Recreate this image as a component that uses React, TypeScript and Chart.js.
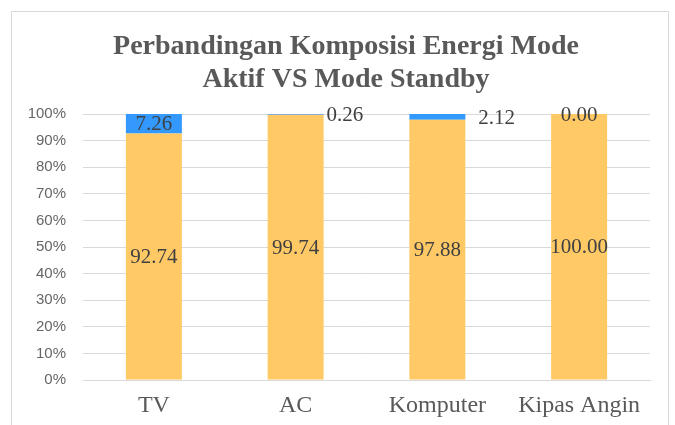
import React, { useEffect, useRef } from "react";
import { Chart, registerables } from "chart.js";

Chart.register(...registerables);

const categories = ["TV", "AC", "Komputer", "Kipas Angin"];
const aktifValues = [92.74, 99.74, 97.88, 100.0];
const standbyValues = [7.26, 0.26, 2.12, 0.0];
const titleLines = ["Perbandingan Komposisi Energi Mode", "Aktif VS Mode Standby"];
const yTickStep = 10;

const labelPlugin = {
  id: "barLabels",
  afterLayout(chart: any) {
    if (chart.titleBlock) chart.titleBlock.left = 42;
  },
  afterDatasetsDraw(chart: any) {
    const ctx = chart.ctx;
    ctx.save();
    ctx.font = "21px 'Liberation Serif', 'Times New Roman', serif";
    ctx.fillStyle = "#404040";
    ctx.textBaseline = "middle";
    chart.data.datasets.forEach((ds: any, di: number) => {
      const meta = chart.getDatasetMeta(di);
      meta.data.forEach((bar: any, j: number) => {
        const v = ds.data[j];
        const txt = v.toFixed(2);
        const props = bar.getProps(["x", "y", "base", "width"], true);
        const top = Math.min(props.y, props.base);
        const bottom = Math.max(props.y, props.base);
        if (di === 0 || v >= 5) {
          ctx.textAlign = "center";
          ctx.fillText(txt, props.x, (top + bottom) / 2 + 1);
        } else if (v === 0) {
          ctx.textAlign = "center";
          ctx.fillText(txt, props.x, top + 1);
        } else {
          const dx = j === 1 ? 3 : 13;
          const dy = j === 1 ? 1 : 4;
          ctx.textAlign = "left";
          ctx.fillText(txt, props.x + props.width / 2 + dx, top + dy);
        }
      });
    });
    ctx.restore();
  },
};

export default function App() {
  const ref = useRef<HTMLCanvasElement>(null);
  useEffect(() => {
    if (!ref.current) return;
    const chart = new Chart(ref.current, {
      type: "bar",
      data: {
        labels: categories,
        datasets: [
          {
            label: "Mode Aktif",
            data: aktifValues,
            backgroundColor: "#FFC966",
            barPercentage: 0.395,
            categoryPercentage: 1,
          },
          {
            label: "Mode Standby",
            data: standbyValues,
            backgroundColor: "#3399FF",
            barPercentage: 0.395,
            categoryPercentage: 1,
          },
        ],
      },
      options: {
        responsive: false,
        animation: false,
        events: [],
        layout: { padding: { left: 0, right: 25, top: 0, bottom: 0 } },
        plugins: {
          legend: { display: false },
          tooltip: { enabled: false },
          title: {
            display: true,
            text: titleLines,
            color: "#595959",
            font: { family: "'Liberation Serif', 'Times New Roman', serif", size: 28, weight: "bold", lineHeight: 1.18 },
            padding: { top: 30, bottom: 18 },
          },
        },
        scales: {
          x: {
            stacked: true,
            afterFit(scale: any) {
              scale.height = 45;
            },
            grid: { display: false },
            border: { display: true, color: "#D9D9D9" },
            ticks: {
              color: "#595959",
              font: { family: "'Liberation Serif', 'Times New Roman', serif", size: 24 },
              padding: 3,
              maxRotation: 0,
              autoSkip: false,
            },
          },
          y: {
            stacked: true,
            min: 0,
            max: 100,
            afterFit(scale: any) {
              scale.width = 83;
            },
            grid: { color: "#D9D9D9", drawTicks: false },
            border: { display: false },
            ticks: {
              stepSize: yTickStep,
              padding: 17,
              color: "#666666",
              font: { family: "'Liberation Sans', Arial, sans-serif", size: 15 },
              callback: (v: any) => v + "%",
            },
          },
        },
      },
      plugins: [labelPlugin],
    });
    return () => chart.destroy();
  }, []);
  return (
    <div style={{ position: "fixed", left: 0, top: 0, width: 675, height: 425, background: "#fff", overflow: "hidden" }}>
      <div style={{ position: "absolute", left: 11, top: 11, width: 656, height: 440, border: "1px solid #D9D9D9" }} />
      <canvas ref={ref} width={675} height={425} style={{ position: "absolute", left: 0, top: 0 }} />
    </div>
  );
}
